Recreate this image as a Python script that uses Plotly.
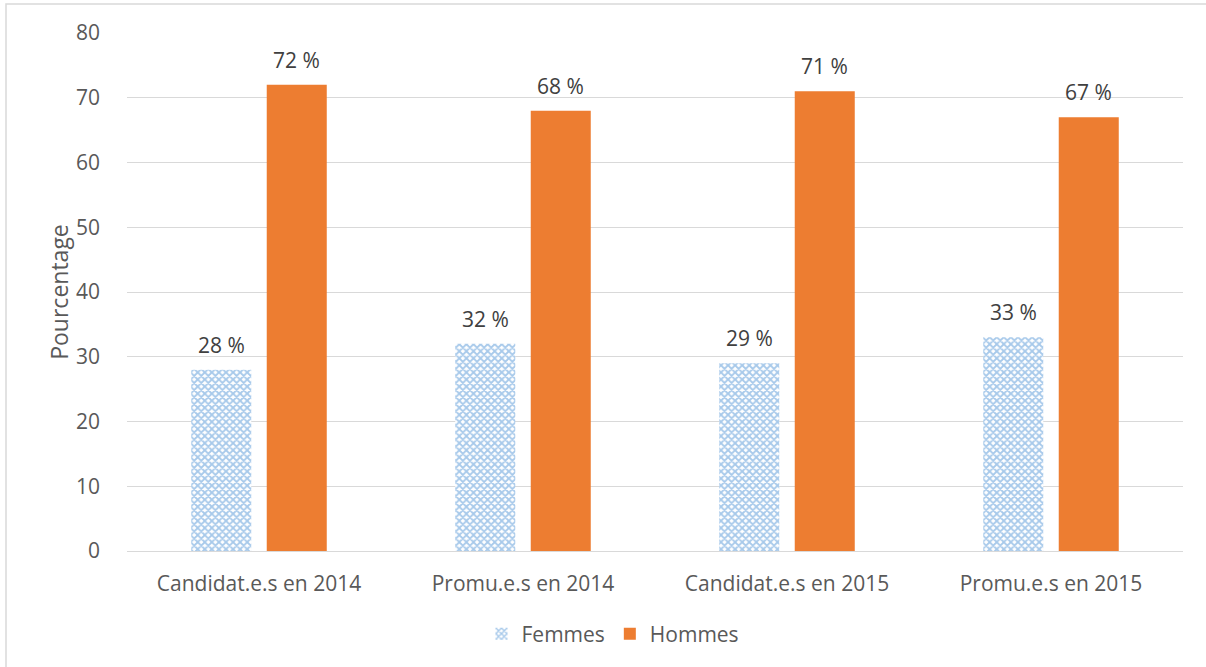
import plotly.graph_objects as go

categories = ["Candidat.e.s en 2014", "Promu.e.s en 2014", "Candidat.e.s en 2015", "Promu.e.s en 2015"]
femmes = [28, 32, 29, 33]
hommes = [72, 68, 71, 67]
y_ticks = [0, 10, 20, 30, 40, 50, 60, 70, 80]

W, H = 1206, 667
L, R, T, B = 127, 23, 33, 116
pw, ph = W - L - R, H - T - B

def px_x(p):
    return (p - L) / pw

def px_y(p):
    return (H - B - p) / ph

font_family = "Open Sans, Liberation Sans, sans-serif"
text_col = "#595959"
fs = 21

# bar geometry: slot per bar within a category and its centre offset
cat_w = pw / len(categories)
bargap, bargroupgap = 0.428, 0.205
slot = (1 - bargap) * cat_w / 2

fig = go.Figure()
fig.add_trace(go.Bar(
    name="Femmes", x=categories, y=femmes,
    marker=dict(color="white", line=dict(width=0),
                pattern=dict(shape="x", fgcolor="#4f93d6", bgcolor="white",
                             size=5, solidity=0.6)),
))
fig.add_trace(go.Bar(
    name="Hommes", x=categories, y=hommes,
    marker=dict(color="#ed7d31", line=dict(width=0)),
))

annotations = []
for series, shift in ((femmes, -slot / 2), (hommes, slot / 2)):
    for cat, v in zip(categories, series):
        annotations.append(dict(
            x=cat, y=v, xref="x", yref="y", text=f"{v} %", showarrow=False,
            xshift=shift, yshift=25, yanchor="middle",
            font=dict(size=fs, color="#404040", family=font_family),
        ))

fig.update_layout(
    width=W, height=H,
    margin=dict(l=L, r=R, t=T, b=B),
    paper_bgcolor="white", plot_bgcolor="white",
    barmode="group", bargap=bargap, bargroupgap=bargroupgap,
    font=dict(family=font_family, color=text_col, size=fs),
    showlegend=True,
    legend=dict(orientation="h", x=px_x(613), xanchor="center", y=px_y(634), yanchor="middle",
                font=dict(size=fs, color=text_col), traceorder="normal"),
    xaxis=dict(showgrid=False, showline=True, linecolor="#d9d9d9", linewidth=1,
               ticks="", ticklabelstandoff=14, tickfont=dict(size=fs, color=text_col)),
    yaxis=dict(range=[0, 80], tickvals=y_ticks, showgrid=True, gridcolor="#d9d9d9",
               gridwidth=1, zeroline=False, showline=False, ticks="",
               ticklabelstandoff=26,
               tickfont=dict(size=fs, color=text_col),
               title=dict(text="Pourcentage", font=dict(size=23, color=text_col), standoff=0)),
    annotations=annotations,
    shapes=[dict(type="rect", xref="paper", yref="paper",
                 x0=px_x(6), x1=px_x(W + 20), y0=px_y(H + 20), y1=px_y(4),
                 line=dict(color="#d9d9d9", width=1.5), fillcolor="rgba(0,0,0,0)",
                 layer="below")],
)

fig.write_html("out.html")
